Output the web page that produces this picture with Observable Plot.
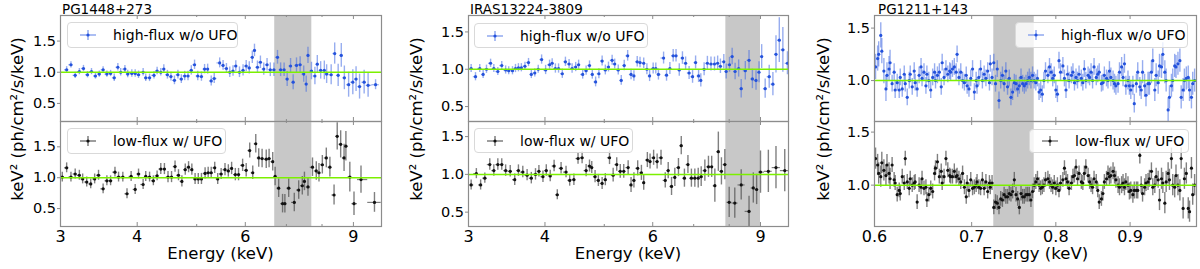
<!DOCTYPE html>
<html><head><meta charset="utf-8">
<script src="https://cdn.jsdelivr.net/npm/d3@7"></script>
<script src="https://cdn.jsdelivr.net/npm/@observablehq/plot@0.6"></script>
<style>
body{margin:0;background:#fff;font-family:"DejaVu Sans",sans-serif;}
#fig{position:relative;width:1200px;height:269px;overflow:hidden;background:#fff;}
.sub{position:absolute;}
.sub svg{overflow:visible;display:block;max-width:none !important;}
.txt{position:absolute;white-space:nowrap;color:#000;line-height:1;font-family:"DejaVu Sans",sans-serif;}
.legend{position:absolute;box-sizing:border-box;border:1px solid #d9d9d9;border-radius:4px;background:rgba(255,255,255,0.8);}
.legend span{position:absolute;left:45px;top:50%;transform:translateY(-50%);font-size:14px;line-height:1;white-space:nowrap;font-family:"DejaVu Sans",sans-serif;}
.legend svg{position:absolute;left:11px;top:50%;transform:translateY(-50%);}
</style></head><body><div id="fig"></div>
<script>
// ---------- PG1448+273 ----------
const pg1448Band = [6.7, 7.7];
const pg1448HighE = [3.07,3.12,3.17,3.22,3.27,3.32,3.37,3.42,3.47,3.52,
3.57,3.62,3.67,3.72,3.76,3.82,3.86,3.92,3.97,4.02,
4.09,4.13,4.19,4.26,4.31,4.37,4.42,4.48,4.54,4.60,
4.66,4.72,4.78,4.84,4.90,4.96,5.02,5.09,5.15,5.21,
5.28,5.34,5.45,5.52,5.59,5.66,5.73,5.79,5.87,5.95,
6.02,6.09,6.16,6.21,6.28,6.35,6.43,6.51,6.59,6.68,
6.77,6.85,6.94,7.02,7.11,7.18,7.27,7.37,7.47,7.54,
7.59,7.69,7.79,7.86,7.96,8.07,8.14,8.28,8.39,8.50,
8.60,8.70,8.84,8.98,9.09,9.21,9.37,9.51,9.78];
const pg1448HighV = [1.04,1.12,0.95,1.01,1.06,0.96,1.01,0.94,0.97,1.04,
0.97,0.98,0.91,1.08,1.00,1.05,0.97,0.98,0.98,0.96,
1.00,0.91,0.91,0.95,1.02,1.00,1.05,0.96,0.93,0.87,
0.96,0.89,0.94,0.94,1.03,1.12,0.94,0.93,1.05,1.05,
0.86,0.90,1.15,1.11,1.06,1.00,1.02,1.10,1.00,1.03,
1.10,1.07,1.24,1.35,1.08,1.16,1.05,1.12,1.04,1.04,
1.24,1.04,1.04,0.89,1.10,0.84,1.11,1.12,0.97,0.81,
1.27,1.02,0.94,1.13,1.03,1.03,0.97,0.96,1.30,0.95,
1.27,0.91,0.80,0.84,0.89,0.77,0.84,0.79,0.80];
const pg1448HighErr = [0.05,0.05,0.05,0.05,0.05,0.05,0.05,0.05,0.05,0.05,
0.05,0.05,0.06,0.06,0.06,0.06,0.06,0.06,0.06,0.06,
0.06,0.06,0.06,0.06,0.06,0.06,0.07,0.07,0.07,0.07,
0.07,0.07,0.075,0.075,0.075,0.075,0.075,0.075,0.075,0.08,
0.08,0.08,0.08,0.08,0.08,0.085,0.085,0.085,0.085,0.09,
0.09,0.10,0.10,0.10,0.10,0.10,0.10,0.10,0.11,0.11,
0.11,0.11,0.11,0.12,0.12,0.12,0.12,0.13,0.13,0.13,
0.13,0.14,0.14,0.14,0.14,0.15,0.15,0.16,0.17,0.18,
0.19,0.19,0.20,0.20,0.20,0.20,0.19,0.19,0.08];
const pg1448LowE = [3.02,3.07,3.12,3.17,3.22,3.26,3.31,3.36,3.41,3.46,
3.52,3.57,3.62,3.68,3.73,3.79,3.85,3.91,3.97,4.02,
4.09,4.13,4.19,4.25,4.31,4.37,4.43,4.49,4.55,4.61,
4.67,4.73,4.79,4.85,4.91,4.97,5.03,5.09,5.16,5.22,
5.28,5.35,5.41,5.48,5.56,5.63,5.70,5.78,5.85,5.94,
6.02,6.10,6.17,6.24,6.31,6.39,6.49,6.56,6.65,6.71,
6.80,6.90,6.96,7.06,7.21,7.33,7.43,7.49,7.59,7.72,
7.83,7.91,8.01,8.13,8.24,8.37,8.47,8.58,8.69,8.75,
8.88,9.02,9.26,9.74];
const pg1448LowV = [1.01,1.16,1.01,1.06,1.04,0.98,0.93,0.90,0.98,1.04,
0.82,0.95,0.95,1.09,1.01,1.01,0.74,1.02,0.81,1.06,
0.89,1.02,1.01,0.95,1.03,1.14,1.14,1.01,1.01,1.18,
1.04,0.94,1.13,1.17,1.13,0.98,0.98,0.98,1.07,1.08,
1.08,1.16,0.98,1.06,1.13,1.11,1.15,1.05,1.05,1.20,
1.12,1.44,1.08,1.55,1.32,1.31,1.30,1.31,1.26,1.02,
0.83,0.58,0.58,0.83,0.60,0.80,0.87,0.94,0.85,1.17,
1.11,1.08,1.21,1.32,1.17,0.72,1.67,1.54,1.32,1.51,
1.01,0.58,0.97,0.60];
const pg1448LowErr = [0.08,0.08,0.08,0.08,0.08,0.08,0.08,0.08,0.08,0.08,
0.08,0.08,0.08,0.08,0.08,0.08,0.08,0.08,0.08,0.08,
0.08,0.08,0.08,0.08,0.08,0.09,0.09,0.09,0.09,0.09,
0.09,0.09,0.09,0.09,0.09,0.09,0.09,0.09,0.09,0.09,
0.09,0.09,0.09,0.09,0.10,0.10,0.10,0.10,0.10,0.10,
0.11,0.12,0.11,0.15,0.15,0.15,0.15,0.15,0.15,0.15,
0.15,0.15,0.15,0.15,0.15,0.15,0.15,0.15,0.15,0.15,
0.15,0.15,0.15,0.16,0.16,0.16,0.22,0.22,0.22,0.24,
0.24,0.19,0.22,0.16];

// ---------- IRAS13224-3809 ----------
const irasBand = [7.9, 9.0];
const irasHighE = [3.03,3.08,3.13,3.17,3.21,3.26,3.30,3.35,3.40,3.45,
3.49,3.54,3.58,3.62,3.66,3.71,3.76,3.80,3.85,3.90,
3.95,4.01,4.07,4.11,4.16,4.21,4.27,4.32,4.38,4.43,
4.49,4.54,4.61,4.67,4.73,4.78,4.84,4.90,4.96,5.02,
5.08,5.15,5.20,5.27,5.33,5.39,5.46,5.53,5.59,5.66,
5.72,5.80,5.87,5.93,6.01,6.07,6.13,6.25,6.32,6.40,
6.48,6.55,6.63,6.71,6.79,6.88,6.97,7.05,7.13,7.19,
7.28,7.37,7.47,7.57,7.66,7.74,7.84,7.91,8.01,8.09,
8.18,8.29,8.37,8.50,8.62,8.73,8.85,8.95,9.04,9.16,
9.30,9.43,9.54,9.66,9.79,9.96];
const irasHighV = [1.01,0.90,1.01,0.93,1.00,1.08,1.01,0.97,1.05,0.99,
0.98,0.98,1.01,1.02,1.02,1.04,1.09,0.93,0.95,1.00,
1.13,0.99,1.06,1.08,1.01,1.01,0.94,1.10,1.07,1.01,
1.03,1.06,0.93,0.98,1.05,0.93,0.83,0.94,1.11,0.99,
1.03,1.12,1.07,0.99,0.85,1.05,1.18,0.93,0.91,1.10,
1.09,1.08,1.00,0.91,1.01,1.01,0.93,1.15,0.92,1.01,
1.18,1.18,0.99,1.15,1.08,0.95,0.90,1.09,0.91,0.85,
1.00,1.08,1.07,1.07,1.08,1.04,1.10,0.97,1.06,1.17,
0.97,1.01,0.74,0.98,1.12,0.87,0.85,0.96,1.17,0.74,
0.90,0.80,1.20,1.39,1.26,1.08];
const irasHighErr = [0.055,0.055,0.055,0.055,0.055,0.055,0.055,0.055,0.055,0.055,
0.055,0.055,0.055,0.055,0.055,0.055,0.055,0.055,0.055,0.055,
0.062,0.062,0.062,0.062,0.062,0.062,0.062,0.062,0.062,0.062,
0.062,0.062,0.062,0.062,0.062,0.062,0.066,0.066,0.066,0.066,
0.066,0.066,0.066,0.066,0.066,0.071,0.071,0.071,0.071,0.071,
0.071,0.071,0.075,0.075,0.075,0.075,0.075,0.08,0.08,0.08,
0.084,0.084,0.084,0.084,0.084,0.088,0.088,0.088,0.088,0.088,
0.088,0.093,0.093,0.093,0.097,0.097,0.097,0.10,0.10,0.11,
0.11,0.115,0.124,0.124,0.13,0.13,0.13,0.14,0.16,0.13,
0.155,0.155,0.25,0.30,0.30,0.155];
const irasLowE = [3.03,3.09,3.14,3.19,3.25,3.30,3.35,3.40,3.45,3.51,
3.57,3.62,3.68,3.74,3.80,3.86,3.91,3.97,4.02,4.08,
4.14,4.19,4.25,4.33,4.39,4.46,4.53,4.60,4.67,4.73,
4.77,4.83,4.89,4.96,5.02,5.10,5.17,5.24,5.31,5.38,
5.47,5.53,5.59,5.67,5.75,5.80,5.88,5.94,6.02,6.10,
6.19,6.29,6.36,6.44,6.52,6.61,6.68,6.76,6.85,6.94,
7.03,7.12,7.20,7.30,7.40,7.49,7.58,7.68,7.77,7.87,
8.00,8.17,8.37,8.62,8.76,8.87,9.00,9.27,9.54,9.86];
const irasLowV = [0.86,1.01,0.86,0.95,1.13,1.05,1.13,1.13,1.05,1.04,
0.93,1.05,1.03,0.99,0.95,1.00,1.04,0.97,1.05,0.98,
1.11,0.73,1.08,1.03,0.92,0.93,1.21,1.22,1.05,1.11,
1.09,0.97,0.92,0.88,0.93,1.22,0.99,1.13,1.04,1.04,
1.09,0.86,0.92,1.08,1.02,0.89,1.19,1.17,1.22,1.17,
1.22,0.92,1.05,0.84,0.96,1.09,1.38,0.95,1.13,0.95,
0.95,0.95,0.97,1.05,1.10,1.10,0.85,1.30,1.04,1.13,
0.63,0.62,0.86,0.51,0.82,0.80,1.03,1.04,1.09,1.05];
const irasLowErr = [0.067,0.067,0.067,0.067,0.076,0.076,0.076,0.076,0.076,0.076,
0.076,0.076,0.076,0.076,0.076,0.076,0.076,0.076,0.076,0.076,
0.076,0.067,0.076,0.076,0.076,0.076,0.076,0.08,0.08,0.08,
0.08,0.08,0.08,0.08,0.08,0.09,0.09,0.09,0.09,0.09,
0.09,0.10,0.10,0.10,0.10,0.10,0.10,0.10,0.10,0.10,
0.10,0.10,0.107,0.12,0.12,0.12,0.12,0.12,0.12,0.12,
0.12,0.13,0.13,0.14,0.14,0.14,0.22,0.26,0.18,0.20,
0.20,0.20,0.20,0.20,0.20,0.20,0.28,0.28,0.28,0.28];

// ---------- PG1211+143 ----------
const pg1211Band = [0.725, 0.773];
const pg1211E = [0.601,0.603,0.604,0.606,0.607,0.609,0.611,0.612,0.614,0.615,
0.617,0.619,0.620,0.622,0.624,0.625,0.627,0.629,0.630,0.632,
0.634,0.635,0.637,0.639,0.640,0.642,0.644,0.646,0.647,0.649,
0.651,0.652,0.654,0.656,0.658,0.660,0.661,0.663,0.665,0.667,
0.668,0.670,0.672,0.674,0.676,0.677,0.679,0.681,0.683,0.684,
0.686,0.688,0.690,0.692,0.694,0.695,0.697,0.699,0.701,0.703,
0.705,0.706,0.708,0.710,0.712,0.714,0.716,0.718,0.720,0.721,
0.723,0.725,0.727,0.729,0.731,0.733,0.735,0.737,0.739,0.741,
0.743,0.745,0.747,0.749,0.751,0.753,0.755,0.757,0.759,0.761,
0.763,0.765,0.767,0.769,0.771,0.773,0.775,0.777,0.779,0.781,
0.783,0.785,0.787,0.790,0.792,0.794,0.796,0.798,0.800,0.802,
0.804,0.806,0.809,0.811,0.813,0.815,0.817,0.820,0.822,0.824,
0.826,0.828,0.830,0.833,0.835,0.837,0.839,0.842,0.844,0.846,
0.848,0.850,0.853,0.855,0.857,0.860,0.862,0.864,0.867,0.869,
0.871,0.873,0.876,0.878,0.880,0.883,0.885,0.888,0.890,0.892,
0.894,0.897,0.899,0.901,0.904,0.906,0.909,0.911,0.914,0.916,
0.918,0.921,0.923,0.926,0.928,0.931,0.933,0.936,0.938,0.941,
0.943,0.946,0.948,0.951,0.953,0.956,0.958,0.961,0.963,0.966,
0.968,0.971,0.974,0.976,0.979,0.981,0.984,0.987,0.989,0.992,
0.994,0.997];
const pg1211HighV = [1.13,1.21,1.25,1.43,1.28,1.09,0.92,1.05,1.11,1.17,
0.97,1.08,0.91,0.98,0.91,1.03,0.92,1.06,0.97,0.84,
1.00,1.06,0.94,1.09,0.98,0.92,1.05,1.13,1.02,1.08,
0.95,1.06,1.00,0.91,1.03,1.08,1.00,1.05,1.08,0.94,
1.17,1.03,1.11,1.06,1.09,1.08,1.11,1.13,1.08,1.25,
1.03,1.08,1.00,0.98,1.05,0.95,0.92,1.02,1.11,0.89,
1.00,0.95,1.03,1.11,1.00,1.06,1.02,1.09,0.98,1.16,
1.03,1.17,0.97,1.11,0.81,1.00,1.05,0.97,1.09,0.94,
1.02,0.84,0.89,0.98,0.97,0.92,0.95,1.03,0.97,0.95,
0.97,1.00,1.03,1.00,1.05,1.00,0.98,1.02,0.89,0.91,
0.87,1.00,1.09,1.05,1.13,1.08,1.02,1.05,0.91,0.87,
1.19,1.08,1.14,1.02,0.91,1.06,1.00,1.05,1.08,0.98,
1.03,1.00,1.06,1.02,0.98,1.11,1.00,1.05,1.03,1.08,
1.00,1.13,1.03,1.06,1.08,0.97,0.98,1.05,1.02,1.00,
1.09,1.03,1.00,0.97,0.95,0.97,1.08,1.13,1.03,1.16,
0.95,1.00,0.95,0.91,0.95,0.78,0.97,1.08,0.94,0.91,
1.08,0.95,0.86,0.97,0.97,1.08,1.19,0.91,1.05,0.98,
1.14,1.13,1.25,1.08,1.00,0.72,0.84,0.95,1.00,1.14,
1.13,1.16,1.19,0.84,0.91,1.00,1.02,1.03,0.91,0.84,
0.97,1.00];
const pg1211HighErr = [0.12,0.12,0.12,0.12,0.12,0.12,0.12,0.12,0.12,0.12,
0.08,0.08,0.08,0.08,0.08,0.08,0.08,0.08,0.08,0.08,
0.08,0.08,0.08,0.08,0.08,0.08,0.08,0.08,0.08,0.08,
0.08,0.08,0.08,0.08,0.08,0.08,0.08,0.08,0.08,0.08,
0.08,0.08,0.08,0.08,0.08,0.08,0.08,0.08,0.08,0.08,
0.08,0.08,0.08,0.08,0.08,0.08,0.08,0.08,0.08,0.08,
0.08,0.08,0.08,0.08,0.08,0.08,0.08,0.08,0.08,0.08,
0.08,0.08,0.08,0.08,0.08,0.08,0.08,0.08,0.08,0.08,
0.08,0.08,0.08,0.08,0.08,0.08,0.08,0.08,0.08,0.08,
0.08,0.08,0.08,0.08,0.08,0.08,0.08,0.08,0.08,0.08,
0.08,0.08,0.08,0.08,0.08,0.08,0.08,0.08,0.08,0.08,
0.08,0.08,0.08,0.08,0.08,0.08,0.08,0.08,0.08,0.08,
0.08,0.08,0.08,0.08,0.08,0.08,0.08,0.08,0.08,0.08,
0.08,0.08,0.08,0.08,0.08,0.08,0.08,0.08,0.08,0.08,
0.09,0.09,0.09,0.09,0.09,0.09,0.09,0.09,0.09,0.09,
0.09,0.09,0.09,0.09,0.09,0.09,0.09,0.09,0.09,0.09,
0.11,0.11,0.11,0.11,0.11,0.11,0.11,0.11,0.11,0.11,
0.11,0.11,0.11,0.11,0.11,0.11,0.11,0.11,0.11,0.11,
0.11,0.11,0.11,0.11,0.11,0.11,0.11,0.11,0.11,0.11,
0.11,0.11];
const pg1211LowV = [1.25,1.19,1.11,1.08,1.21,1.14,1.09,1.19,1.11,1.06,
1.19,1.05,1.02,0.91,0.95,0.92,1.08,1.02,1.25,1.03,
0.97,1.06,1.00,1.02,1.03,0.84,1.00,0.98,1.06,0.97,
0.98,0.86,0.91,0.97,0.94,1.11,1.16,1.22,1.08,1.13,
1.02,1.08,1.25,1.14,1.09,1.08,1.08,1.13,1.08,1.09,
1.06,1.03,1.11,0.98,0.89,1.02,0.95,1.05,0.97,0.98,
1.00,1.03,0.98,0.97,1.05,0.97,1.03,0.94,1.02,0.98,
1.02,0.79,0.84,0.83,0.79,0.87,0.86,0.91,0.89,0.89,
0.92,0.91,0.94,1.05,0.91,0.87,0.79,0.92,0.89,0.89,
0.91,0.91,0.91,0.86,0.94,1.00,1.03,1.06,1.00,0.97,
0.98,1.00,1.05,1.06,1.03,1.00,0.98,1.02,0.97,1.00,
0.95,1.02,1.05,1.16,1.06,1.03,0.97,1.02,1.08,1.09,
1.17,1.06,1.11,1.03,1.02,1.11,1.17,1.09,1.03,1.00,
0.98,1.06,1.03,0.95,0.84,0.87,0.92,1.03,1.06,1.11,
1.08,1.09,1.13,1.09,1.05,1.00,0.98,1.00,1.02,0.98,
1.03,1.00,0.94,0.95,0.91,0.95,0.95,0.95,1.28,1.00,
0.92,0.98,1.02,1.03,1.06,1.13,0.98,1.00,1.08,1.05,
0.86,1.06,1.02,0.83,1.03,1.11,1.05,1.25,1.00,0.98,
1.09,1.00,0.95,1.25,0.78,1.06,1.11,0.78,0.75,1.16,
0.91,1.00];
const pg1211LowErr = [0.10,0.10,0.10,0.10,0.10,0.10,0.10,0.10,0.10,0.10,
0.07,0.07,0.07,0.07,0.07,0.07,0.07,0.07,0.07,0.07,
0.07,0.07,0.07,0.07,0.07,0.07,0.07,0.07,0.07,0.07,
0.07,0.07,0.07,0.07,0.07,0.07,0.07,0.07,0.07,0.07,
0.07,0.07,0.07,0.07,0.07,0.07,0.07,0.07,0.07,0.07,
0.07,0.07,0.07,0.07,0.07,0.07,0.07,0.07,0.07,0.07,
0.07,0.07,0.07,0.07,0.07,0.07,0.07,0.07,0.07,0.07,
0.07,0.07,0.07,0.07,0.07,0.07,0.07,0.07,0.07,0.07,
0.07,0.07,0.07,0.07,0.07,0.07,0.07,0.07,0.07,0.07,
0.07,0.07,0.07,0.07,0.07,0.07,0.07,0.07,0.07,0.07,
0.07,0.07,0.07,0.07,0.07,0.07,0.07,0.07,0.07,0.07,
0.07,0.07,0.07,0.07,0.07,0.07,0.07,0.07,0.07,0.07,
0.07,0.07,0.07,0.07,0.07,0.07,0.07,0.07,0.07,0.07,
0.07,0.07,0.07,0.07,0.07,0.07,0.07,0.07,0.07,0.07,
0.08,0.08,0.08,0.08,0.08,0.08,0.08,0.08,0.08,0.08,
0.08,0.08,0.08,0.08,0.08,0.08,0.08,0.08,0.08,0.08,
0.08,0.08,0.08,0.08,0.08,0.08,0.08,0.08,0.08,0.08,
0.10,0.10,0.10,0.10,0.10,0.10,0.10,0.10,0.10,0.10,
0.10,0.10,0.10,0.10,0.10,0.10,0.10,0.10,0.10,0.10,
0.10,0.10];

// ---------- labels ----------
const sourceNames = ["PG1448+273", "IRAS13224-3809", "PG1211+143"];
const seriesNames = ["high-flux w/o UFO", "low-flux w/ UFO"];
const yLabelText = "keV² (ph/cm²/s/keV)";
const xLabelText = "Energy (keV)";
const hardTickLabels = [3, 4, 6, 9];
const hardMinorTicks = [5, 7, 8];
const softTickLabels = [0.6, 0.7, 0.8, 0.9];

// ---------- styles ----------
const BLUE_DOT = "#2452dc", BLUE_ERR = "#4169e1";
const BLACK_DOT = "#111111", BLACK_ERR = "#555555";
const GREEN = "#7cf000", BAND = "#c8c8c8", FRAME = "#8c8c8c";

function rows(E, V, Err, withX) {
  const n = Math.min(E.length, V.length, Err.length);
  const out = [];
  for (let i = 0; i < n; i++) {
    const e = E[i];
    const prev = i > 0 ? E[i - 1] : e * e / E[i + 1];
    const next = i < n - 1 ? E[i + 1] : e * e / E[i - 1];
    out.push({e, v: V[i], lo: V[i] - Err[i], hi: V[i] + Err[i],
      x1: withX ? Math.sqrt(prev * e) : e, x2: withX ? Math.sqrt(e * next) : e});
  }
  return out;
}

const panels = [
  {title: sourceNames[0], left: 60, fw: 321, xDomain: [3, 10], xLabels: hardTickLabels, xMajor: [4, 6, 9], xMinor: hardMinorTicks,
   fmt: d => String(d), band: pg1448Band, withX: true,
   up: {data: rows(pg1448HighE, pg1448HighV, pg1448HighErr, true), y: [0.21, 1.91], yt: [0.5, 1, 1.5], legend: [67, 22, 171, 26]},
   lo: {data: rows(pg1448LowE, pg1448LowV, pg1448LowErr, true), y: [0.21, 1.91], yt: [0.5, 1, 1.5], legend: [67, 128, 159, 26]},
   titleX: 62, yLabX: 17.5},
  {title: sourceNames[1], left: 468, fw: 320, xDomain: [3, 10], xLabels: hardTickLabels, xMajor: [4, 6, 9], xMinor: hardMinorTicks,
   fmt: d => String(d), band: irasBand, withX: true,
   up: {data: rows(irasHighE, irasHighV, irasHighErr, true), y: [0.30, 1.72], yt: [0.5, 1, 1.5], legend: [474, 23, 174, 25]},
   lo: {data: rows(irasLowE, irasLowV, irasLowErr, true), y: [0.31, 1.70], yt: [0.5, 1, 1.5], legend: [474, 128, 159, 25]},
   titleX: 470, yLabX: 417},
  {title: sourceNames[2], left: 874, fw: 322, xDomain: [0.6, 1.0], xLabels: softTickLabels, xMajor: [0.7, 0.8, 0.9], xMinor: [],
   fmt: d3.format(".1f"), band: pg1211Band, withX: false,
   up: {data: rows(pg1211E, pg1211HighV, pg1211HighErr, false), y: [0.61, 1.62], yt: [1, 1.5], legend: [1015, 22, 173, 26]},
   lo: {data: rows(pg1211E, pg1211LowV, pg1211LowErr, false), y: [0.61, 1.60], yt: [1, 1.5], legend: [1029, 129, 160, 24]},
   titleX: 878, yLabX: 824}
];

const fig = document.getElementById("fig");
const ML = 50, MR = 4;

function sub(p, s, isLower) {
  // upper frame spans page y 15..121, lower frame page y 121..226
  const top = isLower ? 106 : 0;
  const H = isLower ? 163 : 131;
  const mT = 15;
  const mB = isLower ? 43 : 10;
  const fh = H - mT - mB;
  const dot = isLower ? BLACK_DOT : BLUE_DOT;
  const err = isLower ? BLACK_ERR : BLUE_ERR;
  const errOp = isLower ? 0.75 : 0.55;
  const marks = [
    Plot.rect([p.band], {x1: d => d[0], x2: d => d[1], fill: BAND}),
    p.withX ? Plot.ruleY(s.data, {y: "v", x1: "x1", x2: "x2", stroke: err, strokeOpacity: errOp, strokeWidth: 1.2, clip: true}) : null,
    Plot.ruleX(s.data, {x: "e", y1: "lo", y2: "hi", stroke: err, strokeOpacity: errOp, strokeWidth: 1.4, clip: true}),
    Plot.dot(s.data, {x: "e", y: "v", r: 1.6, fill: dot, stroke: null, clip: true}),
    Plot.ruleY([1], {stroke: GREEN, strokeWidth: 1.5}),
    Plot.tickX(p.xMajor, {x: d => d, insetTop: fh - 4, stroke: FRAME}),
    Plot.tickX(p.xMajor, {x: d => d, insetBottom: fh - 4, stroke: FRAME}),
    p.xMinor.length ? Plot.tickX(p.xMinor, {x: d => d, insetTop: fh - 2, stroke: FRAME}) : null,
    p.xMinor.length ? Plot.tickX(p.xMinor, {x: d => d, insetBottom: fh - 2, stroke: FRAME}) : null,
    Plot.axisY({ticks: s.yt, tickSize: 3, tickPadding: 1.5, tickFormat: d3.format(".1f"), fontSize: 14.5, label: null, stroke: FRAME}),
    isLower ? Plot.axisX({ticks: p.xLabels, tickSize: 0, tickPadding: 4, tickFormat: p.fmt, fontSize: 16, label: null}) : null,
    Plot.frame({stroke: FRAME, strokeWidth: 1.2})
  ].filter(Boolean);
  const W = ML + p.fw + MR;
  const chart = Plot.plot({
    width: W, height: H,
    marginLeft: ML, marginRight: MR, marginTop: mT, marginBottom: mB,
    style: {background: "transparent", overflow: "visible", fontFamily: "DejaVu Sans", color: "#000", maxWidth: "none"},
    x: Object.assign({type: "log", domain: p.xDomain}, isLower ? {} : {axis: null}),
    y: {domain: s.y},
    marks
  });
  const div = document.createElement("div");
  div.className = "sub";
  div.style.left = (p.left - ML) + "px";
  div.style.top = top + "px";
  div.style.width = W + "px";
  div.style.height = H + "px";
  div.appendChild(chart);
  fig.appendChild(div);
}

function legend(box, name, isLower) {
  const [x, y, w, h] = box;
  const d = document.createElement("div");
  d.className = "legend";
  Object.assign(d.style, {left: x + "px", top: y + "px", width: w + "px", height: h + "px"});
  const err = isLower ? "#6a6a6a" : "#7f9bec";
  const dot = isLower ? BLACK_DOT : BLUE_DOT;
  d.innerHTML = `<svg width="18" height="12" viewBox="0 0 18 12"><line x1="1" y1="6" x2="17" y2="6" stroke="${err}" stroke-width="1.3"/><line x1="9" y1="1" x2="9" y2="11" stroke="${err}" stroke-width="1.3"/><circle cx="9" cy="6" r="1.6" fill="${dot}"/></svg><span>${name}</span>`;
  fig.appendChild(d);
}

function text(str, x, y, size, opts = {}) {
  const t = document.createElement("div");
  t.className = "txt";
  t.textContent = str;
  t.style.fontSize = size + "px";
  t.style.left = x + "px";
  t.style.top = y + "px";
  if (opts.rotate) t.style.transform = "translate(-50%,-50%) rotate(-90deg)";
  else if (opts.center) t.style.transform = "translate(-50%,-50%)";
  fig.appendChild(t);
}

for (const p of panels) {
  sub(p, p.up, false);
  sub(p, p.lo, true);
}
for (const p of panels) {
  legend(p.up.legend, seriesNames[0], false);
  legend(p.lo.legend, seriesNames[1], true);
  text(p.title, p.titleX, 3, 13.5);
  text(yLabelText, p.yLabX, 119, 16.5, {rotate: true});
  text(xLabelText, p.left + p.fw / 2, 254, 16.5, {center: true});
}
</script></body></html>
